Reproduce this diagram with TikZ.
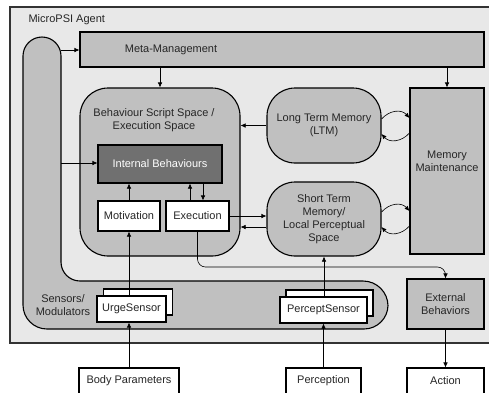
\documentclass[tikz,border=0pt]{standalone}
\usepackage{fontspec}
\setmainfont{Liberation Sans}
\usetikzlibrary{arrows.meta}
\definecolor{agentbg}{HTML}{E8E8E8}
\definecolor{boxgray}{HTML}{C0C0C0}
\definecolor{darkbox}{HTML}{707070}
\tikzset{
  every node/.style={font=\fontsize{11}{13}\selectfont, text=black!85, align=center},
  arr/.style={-{Latex[length=5pt,width=4.5pt]}, line width=.6pt},
  graybox/.style={draw, fill=boxgray, line width=1.1pt, inner sep=0pt},
  whitebox/.style={draw, fill=white, line width=1.1pt, inner sep=0pt},
  roundbox/.style={graybox, rounded corners=28pt},
}
\begin{document}
\begin{tikzpicture}[x=1pt,y=-1pt]
\useasboundingbox (0,0) rectangle (489,392);
\clip (0,0) rectangle (489,392);
% agent frame
\draw[fill=agentbg, line width=1.2pt, draw=black!80] (10,7) rectangle (500,343);
\node[anchor=west] (agent) at (25,20) {MicroPSI Agent};
% sensors / modulators band
\draw[fill=boxgray, line width=1.1pt] (23,200) [rounded corners=19pt] -- (23,37) -- (61,37) -- (61,281)
  [rounded corners=25pt] -- (388,281) [rounded corners=24pt] -- (388,329) -- (23,329)
  [rounded corners=20pt] -- cycle;
\node (senstext) at (63,305) {Sensors/\\Modulators};
% meta-management
\node[graybox, minimum width=404pt, minimum height=35pt] (meta) at (282,49.5) {};
\node (metatext) at (171,50) {Meta-Management};
% behaviour script space
\node[roundbox, minimum width=160pt, minimum height=168pt] (behav) at (160,172) {};
\node (behavtext) at (154,120) {Behaviour Script Space /\\Execution Space};
\node[draw, fill=darkbox, line width=1.1pt, minimum width=124pt, minimum height=38pt, text=white] (intbeh) at (160,164) {Internal Behaviours};
\node[whitebox, minimum width=62pt, minimum height=30pt] (motiv) at (129,216) {Motivation};
\node[whitebox, minimum width=63pt, minimum height=30pt] (exec) at (197.5,216) {Execution};
% memories
\node[roundbox, minimum width=114pt, minimum height=75pt] (ltm) at (324,125.5) {Long Term Memory\\(LTM)};
\node[roundbox, minimum width=114pt, minimum height=74pt] (stm) at (324,219) {Short Term\\Memory/\\Local Perceptual\\Space};
\node[graybox, minimum width=74pt, minimum height=166pt] (memmaint) at (447,171) {};
\node (memtext) at (447,161) {Memory\\Maintenance};
\node[graybox, minimum width=77pt, minimum height=50pt] (extbeh) at (445.5,304) {External\\Behaviors};
% sensors
\node[whitebox, minimum width=69pt, minimum height=26pt] (urgeback) at (138,302) {};
\node[whitebox, minimum width=69pt, minimum height=26pt] (urge) at (131.5,309) {UrgeSensor};
\node[whitebox, minimum width=87pt, minimum height=26pt] (perceptback) at (329.5,303) {};
\node[whitebox, minimum width=87pt, minimum height=26pt] (percept) at (323.5,310) {PerceptSensor};
% outside
\node[whitebox, minimum width=100pt, minimum height=26pt] (body) at (129,381) {Body Parameters};
\node[whitebox, minimum width=75pt, minimum height=26pt] (percep) at (323.5,381) {Perception};
\node[whitebox, minimum width=77pt, minimum height=26pt] (action) at (445.5,381) {Action};
% connectors
\coordinate (barA) at (61,50);
\coordinate (barB) at (61,163);
\draw[arr] (barA) -- (barA -| meta.west);
\draw[arr] (barB) -- (barB -| intbeh.west);
\draw[arr] (behav.north |- meta.south) -- (behav.north);
\draw[arr] (memmaint.north |- meta.south) -- (memmaint.north);
\draw[arr] (ltm.west) -- (ltm.west -| behav.east);
\draw[arr] (exec.east) -- (exec.east -| stm.west);
\draw[arr] (stm.west |- 0,227) -- (behav.east |- 0,227);
\draw[arr] (motiv.north) -- (motiv.north |- intbeh.south);
\draw[arr] (exec.north -| 190,0) -- (intbeh.south -| 190,0);
\draw[arr] (intbeh.south -| 203,0) -- (exec.north -| 203,0);
\draw[arr] (ltm.east |- 0,119) .. controls +(8,-9) and +(-8,-9) .. (memmaint.west |- 0,118);
\draw[arr] (memmaint.west |- 0,133) .. controls +(-8,9) and +(8,9) .. (ltm.east |- 0,134);
\draw[arr] (stm.east |- 0,212) .. controls +(8,-9) and +(-8,-9) .. (memmaint.west |- 0,211);
\draw[arr] (memmaint.west |- 0,226) .. controls +(-8,9) and +(8,9) .. (stm.east |- 0,227);
\draw[arr, rounded corners=8pt] (exec.south) |- (extbeh.north |- 0,267) -- (extbeh.north);
\draw[arr] (motiv.south |- urge.north) -- (motiv.south);
\draw[arr] (stm.south |- percept.north) -- (stm.south);
\draw[arr] (body.north) -- (body.north |- urge.south);
\draw[arr] (percep.north) -- (percept.south);
\draw[arr] (extbeh.south) -- (action.north);
\end{tikzpicture}
\end{document}
